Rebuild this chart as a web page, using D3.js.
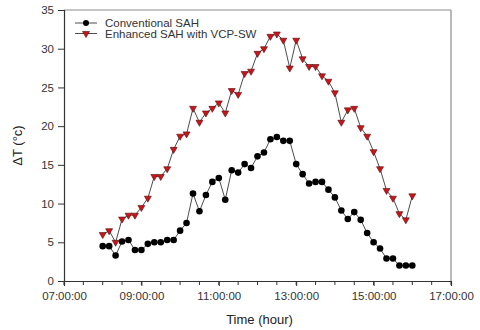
<!DOCTYPE html>
<html>
<head>
<meta charset="utf-8">
<script src="https://cdn.jsdelivr.net/npm/d3@7"></script>
<style>
  body { margin: 0; background: #fff; }
  svg { font-family: "Liberation Sans", Arial, sans-serif; }
</style>
</head>
<body>
<svg id="chart"></svg>
<script>
const times = ["08:00","08:10","08:20","08:30","08:40","08:50","09:00","09:10","09:20","09:30",
  "09:40","09:50","10:00","10:10","10:20","10:30","10:40","10:50","11:00","11:10",
  "11:20","11:30","11:40","11:50","12:00","12:10","12:20","12:30","12:40","12:50",
  "13:00","13:10","13:20","13:30","13:40","13:50","14:00","14:10","14:20","14:30",
  "14:40","14:50","15:00","15:10","15:20","15:30","15:40","15:50","16:00"];

// Conventional SAH
const conventional = [4.5,4.5,3.3,5.1,5.3,4.0,4.0,4.8,5.0,5.0,
  5.3,5.3,6.5,7.5,11.3,9.0,11.1,12.8,13.3,10.5,
  14.3,14.0,15.1,14.6,16.1,16.6,18.3,18.6,18.1,18.1,
  15.1,13.8,12.6,12.8,12.8,11.8,10.8,9.1,8.0,8.9,
  7.9,6.2,5.0,4.2,2.9,2.9,2.0,2.0,2.0];

// Enhanced SAH with VCP-SW
const enhanced = [6.0,6.5,5.0,8.0,8.5,8.5,9.5,10.7,13.5,13.5,
  14.5,17.0,18.7,19.0,22.3,20.5,21.7,22.3,23.0,21.7,
  24.6,24.1,26.8,27.1,29.4,30.0,31.6,31.9,31.1,27.5,
  31.1,28.7,27.7,27.7,26.5,25.8,24.3,20.5,22.1,22.3,
  19.8,18.7,16.7,14.5,11.7,10.7,8.7,7.9,11.0];

const xTickLabels = ["07:00:00","09:00:00","11:00:00","13:00:00","15:00:00","17:00:00"];
const yTicks = [0,5,10,15,20,25,30,35];
const seriesNames = ["Conventional SAH","Enhanced SAH with VCP-SW"];

const svgWidth = 480, svgHeight = 330;
const margin = {top: 10, right: 29, bottom: 49, left: 64},
    width = svgWidth - margin.left - margin.right,
    height = svgHeight - margin.top - margin.bottom;

// "HH:MM" or "HH:MM:SS" -> decimal hours
function toHours(s) {
    var p = s.split(":").map(Number);
    return p[0] + p[1] / 60 + (p[2] || 0) / 3600;
}

const chart = d3.select("#chart")
    .attr("width", svgWidth)
    .attr("height", svgHeight);

const g = chart.append("g")
    .attr("transform", "translate(" + margin.left + "," + margin.top + ")");

var xScale = d3.scaleLinear()
    .domain([toHours(xTickLabels[0]), toHours(xTickLabels[xTickLabels.length - 1])])
    .range([0, width]);
var yScale = d3.scaleLinear().domain([0, 35]).range([height, 0]);

// frame (top/right) in grey
g.append("line").attr("x1", 0).attr("x2", width).attr("y1", 0).attr("y2", 0)
    .attr("stroke", "#8c8c8c").attr("stroke-width", 1.2);
g.append("line").attr("x1", width).attr("x2", width).attr("y1", 0).attr("y2", height)
    .attr("stroke", "#8c8c8c").attr("stroke-width", 1.2);

// minor x ticks every 30 min
var minorTicks = d3.range(xScale.domain()[0], xScale.domain()[1] + 0.01, 0.5);
g.append("g")
    .attr("transform", "translate(0," + height + ")")
    .selectAll("line").data(minorTicks).enter().append("line")
    .attr("x1", d => xScale(d)).attr("x2", d => xScale(d))
    .attr("y1", 0).attr("y2", 4)
    .attr("stroke", "#333").attr("stroke-width", 1);

var xAxis = d3.axisBottom(xScale)
    .tickValues(xTickLabels.map(toHours))
    .tickFormat((d, i) => xTickLabels[i])
    .tickSize(5).tickPadding(6);

var yAxis = d3.axisLeft(yScale)
    .tickValues(yTicks)
    .tickSize(6).tickPadding(4);

var gx = g.append("g")
    .attr("transform", "translate(0," + height + ")")
    .call(xAxis);
var gy = g.append("g").call(yAxis);

[gx, gy].forEach(function(a) {
    a.select(".domain").attr("stroke", "#333").attr("stroke-width", 1.2);
    a.selectAll(".tick line").attr("stroke", "#333");
    a.selectAll(".tick text")
        .attr("fill", "#333")
        .style("font-size", "11.5px");
});

// axis titles
g.append("text")
    .attr("x", width / 2 + 2)
    .attr("y", height + 43)
    .attr("text-anchor", "middle")
    .attr("fill", "#222")
    .style("font-size", "13px")
    .text("Time (hour)");

g.append("text")
    .attr("transform", "translate(" + (-42) + "," + (height / 2) + ") rotate(-90)")
    .attr("text-anchor", "middle")
    .attr("fill", "#222")
    .style("font-size", "13px")
    .text("ΔT (°c)");

var valueline = d3.line()
    .x(d => xScale(toHours(d.t)))
    .y(d => yScale(d.v));

var convData = times.map((t, i) => ({t: t, v: conventional[i]}));
var enhData = times.map((t, i) => ({t: t, v: enhanced[i]}));

var lineColor = "#4d4d4d";
var tri = d3.symbol().type(d3.symbolTriangle).size(21);

// enhanced series
g.append("path").datum(enhData)
    .attr("d", valueline)
    .attr("fill", "none").attr("stroke", lineColor).attr("stroke-width", 1);
g.selectAll(".tri").data(enhData).enter().append("path")
    .attr("class", "tri")
    .attr("d", tri)
    .attr("transform", d => "translate(" + xScale(toHours(d.t)) + "," + yScale(d.v) + ") rotate(180)")
    .attr("fill", "#c8151b").attr("stroke", "#5a0a0a").attr("stroke-width", 0.6);

// conventional series
g.append("path").datum(convData)
    .attr("d", valueline)
    .attr("fill", "none").attr("stroke", lineColor).attr("stroke-width", 1);
g.selectAll(".dot").data(convData).enter().append("circle")
    .attr("class", "dot")
    .attr("cx", d => xScale(toHours(d.t)))
    .attr("cy", d => yScale(d.v))
    .attr("r", 3.3)
    .attr("fill", "#000");

// legend
var legend = g.append("g").attr("transform", "translate(11,13)");
seriesNames.forEach(function(name, i) {
    var row = legend.append("g").attr("transform", "translate(0," + (i * 10.5) + ")");
    row.append("line").attr("x1", 0).attr("x2", 22).attr("y1", 0).attr("y2", 0)
        .attr("stroke", lineColor).attr("stroke-width", 1);
    if (i === 0) {
        row.append("circle").attr("cx", 11).attr("cy", 0).attr("r", 3).attr("fill", "#000");
    } else {
        row.append("path").attr("d", tri)
            .attr("transform", "translate(11,0) rotate(180)")
            .attr("fill", "#c8151b").attr("stroke", "#5a0a0a").attr("stroke-width", 0.6);
    }
    row.append("text")
        .attr("x", 30).attr("y", 0).attr("dy", "0.35em")
        .attr("fill", "#333")
        .style("font-size", "11.5px")
        .text(name);
});
</script>
</body>
</html>
